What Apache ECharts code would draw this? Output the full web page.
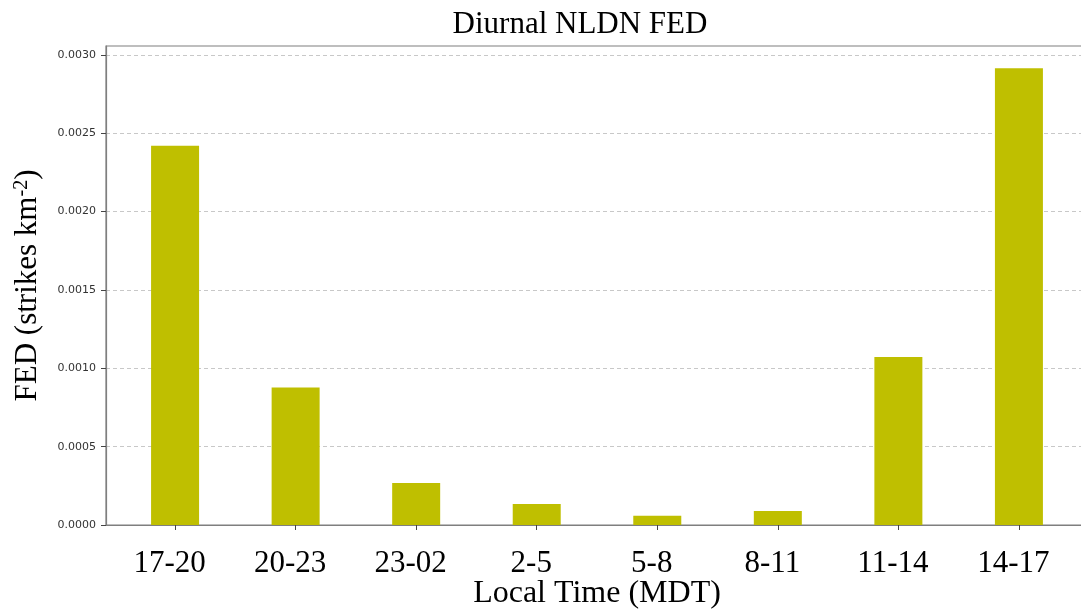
<!DOCTYPE html>
<html>
<head>
<meta charset="utf-8">
<script src="https://cdn.jsdelivr.net/npm/echarts@6/dist/echarts.min.js"></script>
<style>
  html, body { margin: 0; padding: 0; background: #fff; }
  #chart { width: 1081px; height: 613px; }
</style>
</head>
<body>
<div id="chart"></div>
<script>
// Flash extent density per 3-hour local time window
const categories = ['17-20', '20-23', '23-02', '2-5', '5-8', '8-11', '11-14', '14-17'];
const fedValues = [0.00242, 0.000877, 0.000268, 0.000134, 0.000059, 0.000089, 0.001072, 0.002915];
const yTicks = [0, 0.0005, 0.001, 0.0015, 0.002, 0.0025, 0.003];

const positions = categories.map((_, i) => i);
const serif = '"Liberation Serif", "DejaVu Serif", serif';

const chart = echarts.init(document.getElementById('chart'));
chart.setOption({
  animation: false,
  backgroundColor: '#ffffff',
  title: {
    text: 'Diurnal NLDN FED',
    left: 575,
    top: 4,
    textAlign: 'center',
    textStyle: { fontFamily: serif, fontSize: 31, fontWeight: 'normal', color: '#000' }
  },
  grid: {
    left: 106, top: 46, bottom: 88, width: 982,
    outerBoundsMode: 'none',
    containLabel: false,
    show: true, borderColor: '#7f7f7f', borderWidth: 1.2, backgroundColor: 'transparent'
  },
  xAxis: {
    type: 'value',
    min: -0.573,
    max: 7.573,
    name: 'Local Time (MDT)',
    nameLocation: 'middle',
    nameGap: 53,
    nameMoveOverlap: false,
    nameTextStyle: { fontFamily: serif, fontSize: 32, color: '#000', verticalAlign: 'top' },
    axisLine: { show: true, onZero: false, lineStyle: { color: '#7f7f7f', width: 1.2 } },
    axisTick: { show: true, customValues: positions, length: 5, lineStyle: { color: '#444' } },
    axisLabel: {
      customValues: positions,
      formatter: v => categories[Math.round(v)],
      fontFamily: serif, fontSize: 31, color: '#000', margin: 23,
      padding: [0, 11, 0, 0]
    },
    splitLine: { show: false }
  },
  yAxis: {
    type: 'value',
    min: 0,
    max: 0.003057,
    interval: 0.0005,
    name: 'FED (strikes km{sup|-2})',
    nameLocation: 'middle',
    nameGap: 62,
    nameMoveOverlap: false,
    nameTextStyle: {
      fontFamily: serif, fontSize: 31, color: '#000',
      rich: { sup: { fontFamily: serif, fontSize: 20, color: '#000', verticalAlign: 'top', padding: [0, 0, 12, 0] } }
    },
    axisLine: { show: true, onZero: false, lineStyle: { color: '#7f7f7f', width: 1.2 } },
    axisTick: { show: true, customValues: yTicks, length: 5, lineStyle: { color: '#444' } },
    axisLabel: {
      customValues: yTicks,
      formatter: v => v.toFixed(4),
      fontFamily: '"DejaVu Sans", sans-serif', fontSize: 11, color: '#333', margin: 10
    },
    splitLine: { show: true, lineStyle: { color: '#c8c8c8', type: [4, 3], width: 1 } }
  },
  series: [{
    type: 'bar',
    data: fedValues.map((v, i) => [i, v]),
    barWidth: 48,
    itemStyle: { color: '#bfbf00' }
  }]
});
</script>
</body>
</html>
